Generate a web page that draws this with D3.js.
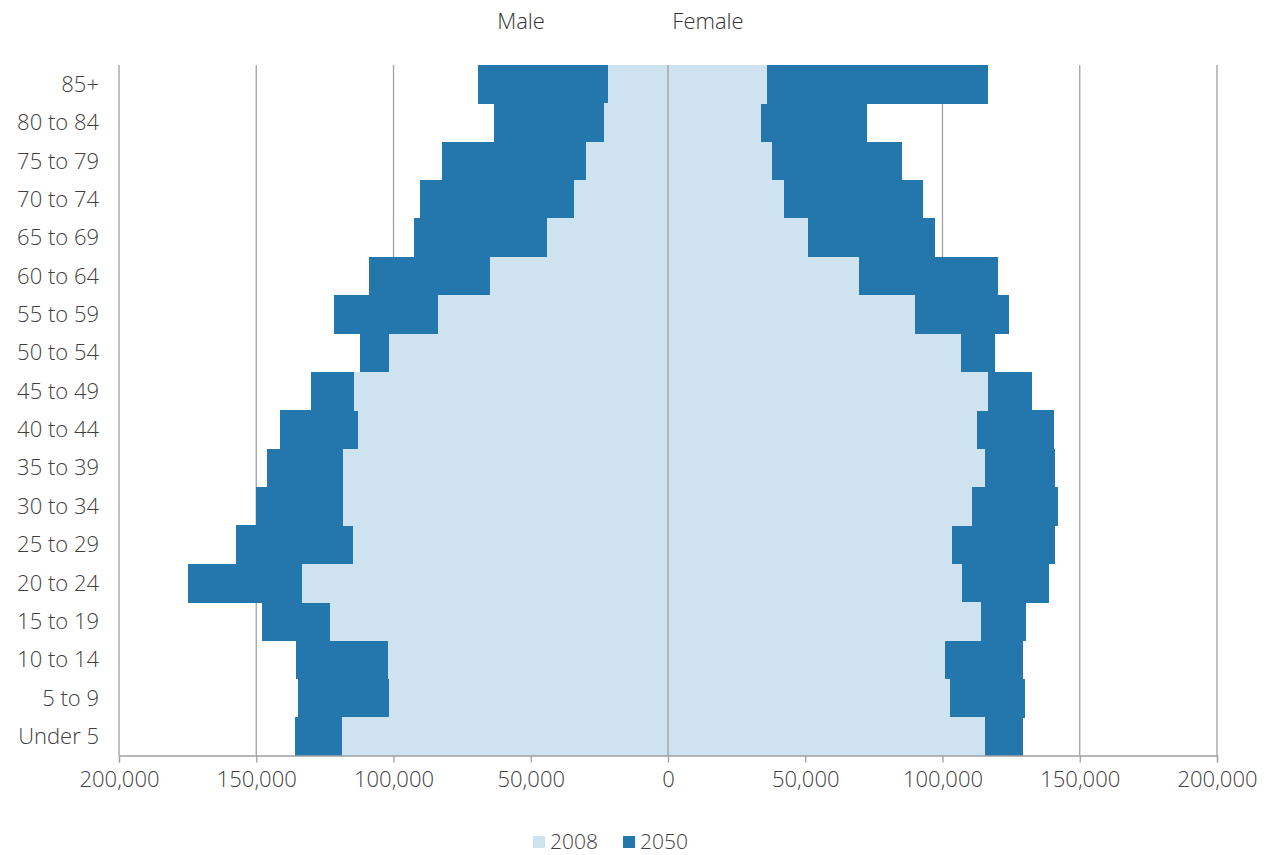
<!DOCTYPE html>
<html><head><meta charset="utf-8">
<script src="https://cdn.jsdelivr.net/npm/d3@7"></script>
<style>
html,body{margin:0;padding:0;background:#fff;}
svg{display:block;font-family:"Open Sans",sans-serif;font-weight:300;}
</style></head>
<body><svg id="chart" width="1271" height="855"></svg>
<script>
const ageGroups = ["85+","80 to 84","75 to 79","70 to 74","65 to 69","60 to 64","55 to 59","50 to 54","45 to 49","40 to 44","35 to 39","30 to 34","25 to 29","20 to 24","15 to 19","10 to 14","5 to 9","Under 5"];
const male2008   = [21760,23210,29770,34370,44210,64760,83820,101570,114320,112870,118330,118330,114690,133270,123070,102040,101570,118910];
const male2050   = [69350,63300,82360,90270,92680,109080,121610,112240,130000,141290,146020,150150,157550,174820,147850,135570,134730,136040];
const female2008 = [36190,33890,38010,42270,51130,69720,89900,106670,116510,112720,115630,110900,103390,107140,114180,101060,102880,115630];
const female2050 = [116510,72520,85170,93040,97300,120150,124380,119280,132760,140780,141140,142130,141140,138960,130470,129480,130000,129480];
const xTicks = [-200000,-150000,-100000,-50000,0,50000,100000,150000,200000];
const seriesNames = ["2008","2050"];
const colors = {"2008":"#cfe2f0","2050":"#2477ad"};

const svg = d3.select("#chart");
const x = d3.scaleLinear().domain([-200000,200000]).range([119,1217]);
const y = d3.scaleBand().domain(ageGroups).range([65,755.5]).padding(0);

// gridlines
svg.append("g").selectAll("line").data(xTicks).join("line")
  .attr("x1",d=>x(d)).attr("x2",d=>x(d)).attr("y1",65).attr("y2",755.5)
  .attr("stroke","#a0a0a0").attr("stroke-width",1.3);

function drawSeries(maleArr, femaleArr, color){
  const g = svg.append("g").attr("shape-rendering","crispEdges");
  g.selectAll("rect.m").data(ageGroups).join("rect").attr("class","m")
    .attr("x",(d,i)=>x(-maleArr[i])).attr("width",(d,i)=>x(0)-x(-maleArr[i]))
    .attr("y",d=>y(d)).attr("height",y.bandwidth()+0.5)
    .attr("fill",color);
  g.selectAll("rect.f").data(ageGroups).join("rect").attr("class","f")
    .attr("x",x(0)).attr("width",(d,i)=>x(femaleArr[i])-x(0))
    .attr("y",d=>y(d)).attr("height",y.bandwidth()+0.5)
    .attr("fill",color);
}
drawSeries(male2050, female2050, colors["2050"]);
drawSeries(male2008, female2008, colors["2008"]);

// zero line on top
svg.append("line").attr("x1",x(0)).attr("x2",x(0)).attr("y1",65).attr("y2",755.5)
  .attr("stroke","#a0a0a0").attr("stroke-width",1.3);

// x axis
const xAxis = d3.axisBottom(x).tickValues(xTicks).tickSize(7).tickPadding(9)
  .tickFormat(d=>d3.format(",")(Math.abs(d)));
const gx = svg.append("g").attr("transform","translate(0,755.5)").call(xAxis);
gx.select(".domain").attr("stroke","#a0a0a0").attr("stroke-width",1.3);
gx.selectAll(".tick line").attr("stroke","#a0a0a0").attr("stroke-width",1.3);
gx.selectAll("text").attr("font-size",22).attr("fill","#404040").attr("font-family","Open Sans, sans-serif").attr("font-weight",300);

// y labels
svg.append("g").selectAll("text").data(ageGroups).join("text")
  .attr("x",99).attr("y",d=>y(d)+y.bandwidth()/2).attr("dy","0.35em")
  .attr("text-anchor","end").attr("font-size",22).attr("fill","#404040").text(d=>d);

// headers
svg.append("text").attr("x",521).attr("y",29).attr("text-anchor","middle")
  .attr("font-size",22).attr("fill","#333").text("Male");
svg.append("text").attr("x",708).attr("y",29).attr("text-anchor","middle")
  .attr("font-size",22).attr("fill","#333").text("Female");

// legend
const legX = [533,623];
const lg = svg.append("g");
seriesNames.forEach((s,i)=>{
  lg.append("rect").attr("x",legX[i]).attr("y",836).attr("width",12).attr("height",12).attr("fill",colors[s]);
  lg.append("text").attr("x",legX[i]+17).attr("y",848.5)
    .attr("font-size",21).attr("fill","#404040").text(s);
});
</script></body></html>
